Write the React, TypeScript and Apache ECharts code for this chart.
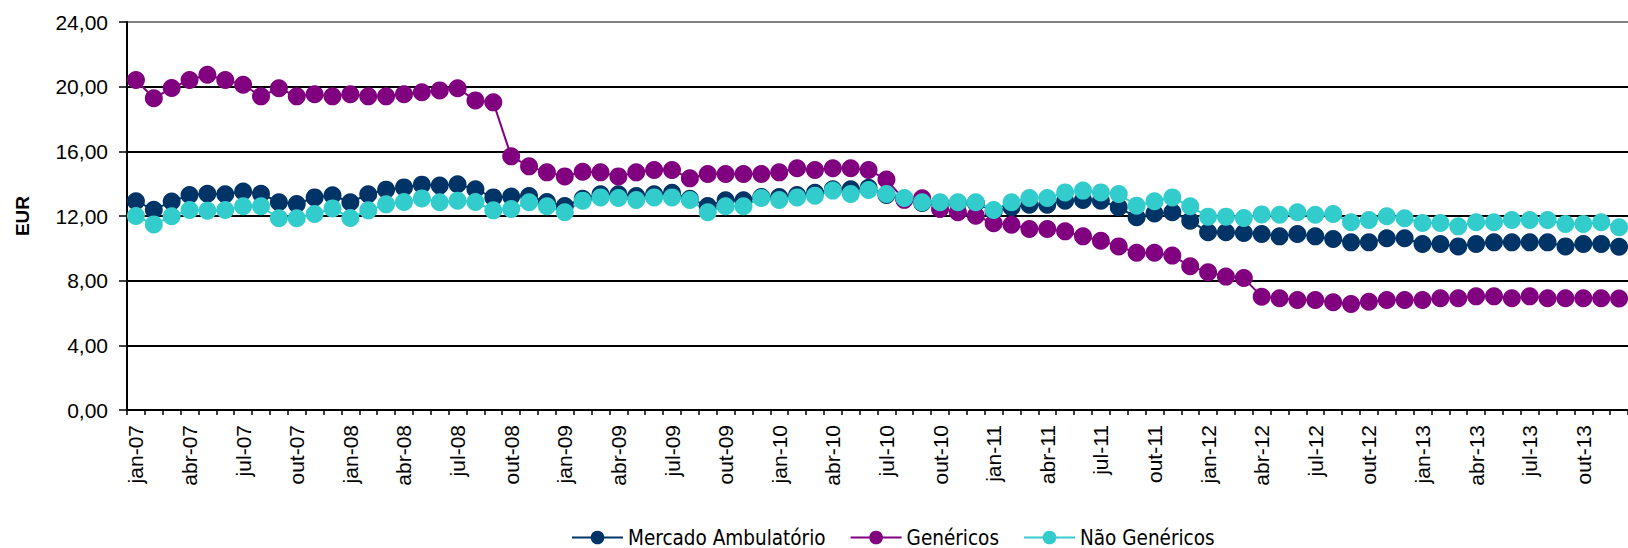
import React, { useEffect, useRef } from "react";
import * as echarts from "echarts";

const monthNames = ["jan", "fev", "mar", "abr", "mai", "jun", "jul", "ago", "set", "out", "nov", "dez"];
const years = ["07", "08", "09", "10", "11", "12", "13"];
const categories: string[] = [];
years.forEach((y) => monthNames.forEach((m) => categories.push(`${m}-${y}`)));

const yTicks = [0, 4, 8, 12, 16, 20, 24];

const mercadoAmbulatorio = [
  12.91, 12.39, 12.89, 13.30, 13.38, 13.34, 13.51, 13.38, 12.85, 12.74, 13.15, 13.28,
  12.85, 13.34, 13.63, 13.77, 13.94, 13.88, 13.96, 13.65, 13.15, 13.20, 13.24, 12.87,
  12.62, 13.07, 13.34, 13.34, 13.24, 13.34, 13.44, 13.07, 12.62, 12.97, 12.97, 13.18,
  13.18, 13.30, 13.44, 13.65, 13.65, 13.75, 13.30, 13.05, 12.80, 12.80, 12.80, 12.80,
  12.30, 12.54, 12.70, 12.70, 12.95, 12.99, 12.95, 12.54, 11.92, 12.16, 12.23, 11.71,
  10.99, 10.99, 10.95, 10.89, 10.74, 10.89, 10.74, 10.58, 10.37, 10.37, 10.62, 10.62,
  10.27, 10.27, 10.12, 10.27, 10.37, 10.37, 10.37, 10.37, 10.12, 10.27, 10.27, 10.10,
];

const genericos = [
  20.41, 19.28, 19.92, 20.41, 20.74, 20.41, 20.12, 19.40, 19.90, 19.40, 19.53, 19.40,
  19.53, 19.40, 19.40, 19.53, 19.65, 19.77, 19.90, 19.15, 19.03, 15.69, 15.07, 14.70,
  14.45, 14.74, 14.70, 14.45, 14.70, 14.85, 14.85, 14.33, 14.60, 14.60, 14.60, 14.60,
  14.70, 14.95, 14.85, 14.95, 14.95, 14.85, 14.25, 13.00, 13.10, 12.43, 12.23, 12.02,
  11.55, 11.46, 11.20, 11.20, 11.05, 10.74, 10.47, 10.12, 9.73, 9.73, 9.55, 8.89,
  8.52, 8.25, 8.16, 7.01, 6.91, 6.80, 6.80, 6.66, 6.56, 6.70, 6.80, 6.80,
  6.80, 6.91, 6.91, 7.03, 7.03, 6.91, 7.03, 6.91, 6.91, 6.91, 6.91, 6.90,
];

const naoGenericos = [
  12.00, 11.48, 11.98, 12.37, 12.33, 12.37, 12.60, 12.60, 11.86, 11.86, 12.12, 12.47,
  11.88, 12.35, 12.72, 12.87, 13.09, 12.85, 12.95, 12.87, 12.35, 12.43, 12.85, 12.60,
  12.23, 12.95, 13.15, 13.11, 12.99, 13.15, 13.15, 12.99, 12.23, 12.60, 12.60, 13.11,
  12.99, 13.15, 13.26, 13.57, 13.36, 13.61, 13.36, 13.11, 12.85, 12.85, 12.85, 12.85,
  12.37, 12.85, 13.11, 13.11, 13.46, 13.57, 13.46, 13.36, 12.64, 12.91, 13.15, 12.60,
  11.96, 11.96, 11.88, 12.10, 12.08, 12.23, 12.08, 12.12, 11.61, 11.75, 11.98, 11.86,
  11.57, 11.57, 11.36, 11.61, 11.61, 11.75, 11.75, 11.75, 11.51, 11.51, 11.61, 11.30,
];

const seriesNames = ["Mercado Ambulatório", "Genéricos", "Não Genéricos"];
const seriesColors = ["#003366", "#800080", "#33CCCC"];

export default function App() {
  const ref = useRef<HTMLDivElement>(null);

  useEffect(() => {
    if (!ref.current) return;
    const chart = echarts.init(ref.current, undefined, { renderer: "svg" });
    const datasets = [mercadoAmbulatorio, genericos, naoGenericos];
    chart.setOption({
      animation: false,
      backgroundColor: "#ffffff",
      grid: { left: 127, top: 22, bottom: 138, right: -11, containLabel: false },
      xAxis: {
        type: "category",
        data: categories,
        boundaryGap: true,
        axisLine: { show: true, lineStyle: { color: "#000", width: 2 } },
        axisTick: { show: true, interval: 0, length: 5, lineStyle: { color: "#000", width: 1.5 } },
        axisLabel: {
          interval: 2,
          rotate: 90,
          margin: 15,
          color: "#000",
          fontSize: 21,
          fontFamily: "Liberation Sans, Arial, sans-serif",
        },
        splitLine: { show: false },
      },
      yAxis: {
        type: "value",
        min: yTicks[0],
        max: yTicks[yTicks.length - 1],
        interval: 4,
        axisLine: { show: true, lineStyle: { color: "#000", width: 2 } },
        axisTick: { show: true, length: 8, lineStyle: { color: "#000", width: 1.5 } },
        axisLabel: {
          margin: 19,
          color: "#000",
          fontSize: 21,
          fontFamily: "Liberation Sans, Arial, sans-serif",
          formatter: (v: number) => v.toFixed(2).replace(".", ","),
        },
        splitLine: {
          show: true,
          lineStyle: {
            color: ["#000", "#000", "#000", "#000", "#000", "#000", "#808080"],
            width: 1.8,
          },
        },
      },
      legend: {
        left: 566,
        top: 522,
        itemWidth: 51,
        itemHeight: 17,
        itemGap: 24,
        textStyle: {
          fontSize: 20.5,
          color: "#000",
          fontFamily: "DejaVu Sans Condensed, DejaVu Sans, sans-serif",
        },
        data: seriesNames,
      },
      graphic: [
        {
          type: "text",
          x: 22,
          y: 216,
          rotation: Math.PI / 2,
          style: {
            text: "EUR",
            font: "bold 19px Liberation Sans, Arial, sans-serif",
            fill: "#000",
            textAlign: "center",
            textVerticalAlign: "middle",
          },
        },
      ],
      series: datasets.map((d, i) => ({
        name: seriesNames[i],
        type: "line",
        data: d,
        symbol: "circle",
        symbolSize: 18,
        showAllSymbol: true,
        color: seriesColors[i],
        lineStyle: { width: 2, color: seriesColors[i] },
        itemStyle: { color: seriesColors[i] },
        clip: false,
      })),
    });
    return () => chart.dispose();
  }, []);

  return (
    <div
      ref={ref}
      style={{ position: "fixed", left: 0, top: 0, width: 1628, height: 548, background: "#fff" }}
    />
  );
}
